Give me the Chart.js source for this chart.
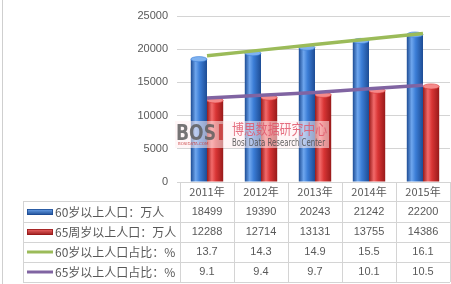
<!DOCTYPE html>
<html>
<head>
<meta charset="utf-8">
<script src="https://cdn.jsdelivr.net/npm/chart.js@4/dist/chart.umd.min.js"></script>
<style>
  html, body { margin: 0; padding: 0; background: #fff; }
  #wrap { position: relative; width: 451px; height: 284px; }
  canvas { display: block; }
</style>
</head>
<body>
<div id="wrap"><canvas id="c" width="451" height="284"></canvas></div>
<script>
// Categories and series
const years = ['2011年', '2012年', '2013年', '2014年', '2015年'];
const pop60 = [18499, 19390, 20243, 21242, 22200];      // 60岁以上人口：万人
const pop65 = [12288, 12714, 13131, 13755, 14386];      // 65周岁以上人口：万人
const share60 = [13.7, 14.3, 14.9, 15.5, 16.1];         // 60岁以上人口占比：%
const share65 = [9.1, 9.4, 9.7, 10.1, 10.5];            // 65岁以上人口占比：%
const seriesNames = ['60岁以上人口：万人', '65周岁以上人口：万人', '60岁以上人口占比：%', '65岁以上人口占比：%'];
const yTicks = [0, 5000, 10000, 15000, 20000, 25000];

const TEXT = '#595959';
const RULE = '#d4d4d4';
const CJK = '"Noto Sans CJK SC", "Microsoft YaHei", sans-serif';
const NUM = '"Liberation Sans", Arial, sans-serif';

const palettes = {
  blue: { edge: '#1d4c94', mid: '#3b7dd6', hi: '#6ea6ee', cap: '#7fb2f0' },
  red:  { edge: '#981a1a', mid: '#d93535', hi: '#f26a6a', cap: '#f58a8a' }
};

// Cylinder-like shading for the columns, built from each bar element's own geometry
const cylinderPlugin = {
  id: 'cylinder',
  beforeDatasetDraw(chart, args) {
    const ds = chart.data.datasets[args.index];
    if (ds.type !== 'bar') return;
    const p = palettes[ds.tone];
    const ctx = chart.ctx;
    args.meta.data.forEach(el => {
      const l = el.x - el.width / 2, r = el.x + el.width / 2;
      const g = ctx.createLinearGradient(l, 0, r, 0);
      g.addColorStop(0, p.edge);
      g.addColorStop(0.3, p.hi);
      g.addColorStop(0.55, p.mid);
      g.addColorStop(1, p.edge);
      el.options = Object.assign({}, el.options, { backgroundColor: g });
    });
  },
  afterDatasetDraw(chart, args) {
    const ds = chart.data.datasets[args.index];
    if (ds.type !== 'bar') return;
    const p = palettes[ds.tone];
    const ctx = chart.ctx;
    ctx.save();
    args.meta.data.forEach(el => {
      ctx.beginPath();
      ctx.ellipse(el.x, el.y, el.width / 2, 2.6, 0, 0, Math.PI * 2);
      ctx.fillStyle = p.cap;
      ctx.fill();
      ctx.lineWidth = 0.6;
      ctx.strokeStyle = p.mid;
      ctx.stroke();
    });
    ctx.restore();
  }
};

// Data table under the plot, columns taken from the category scale
const tablePlugin = {
  id: 'dataTable',
  afterDraw(chart) {
    const ctx = chart.ctx;
    const xs = chart.scales.x;
    const area = chart.chartArea;
    const colW = (area.right - area.left) / years.length;
    const left = 23, right = area.right;
    const top = area.bottom;
    const headerBottom = 201;
    const rowLines = [201, 221.5, 241.5, 262, 282];
    ctx.save();
    ctx.strokeStyle = RULE;
    ctx.lineWidth = 1;
    // horizontal rules
    rowLines.forEach(y => {
      ctx.beginPath();
      ctx.moveTo(left, Math.round(y) + 0.5);
      ctx.lineTo(right, Math.round(y) + 0.5);
      ctx.stroke();
    });
    // vertical rules
    for (let i = 0; i <= years.length; i++) {
      const x = Math.round(area.left + i * colW) + 0.5;
      ctx.beginPath();
      ctx.moveTo(x, top);
      ctx.lineTo(x, 282);
      ctx.stroke();
    }
    ctx.beginPath();
    ctx.moveTo(left + 0.5, headerBottom);
    ctx.lineTo(left + 0.5, 282);
    ctx.stroke();

    ctx.fillStyle = TEXT;
    ctx.textBaseline = 'middle';
    ctx.textAlign = 'center';
    ctx.font = '11px ' + CJK;
    years.forEach((y, i) => ctx.fillText(y, xs.getPixelForValue(i), 192));

    const rows = [pop60, pop65, share60, share65];
    const rowY = [212, 232, 252, 272];
    ctx.font = '11px ' + NUM;
    rows.forEach((vals, r) => {
      vals.forEach((v, i) => ctx.fillText(String(v), xs.getPixelForValue(i), rowY[r]));
    });

    // legend keys and series names
    ctx.textAlign = 'left';
    ctx.font = '12px ' + CJK;
    rowY.forEach((y, r) => {
      const kx = 27, kw = 26;
      if (r < 2) {
        const p = r === 0 ? palettes.blue : palettes.red;
        const g = ctx.createLinearGradient(0, y - 3, 0, y + 3);
        g.addColorStop(0, p.hi);
        g.addColorStop(1, p.edge);
        ctx.fillStyle = g;
        ctx.fillRect(kx, y - 3, kw, 6);
        ctx.strokeStyle = p.edge;
        ctx.lineWidth = 0.8;
        ctx.strokeRect(kx + 0.5, y - 2.5, kw - 1, 5);
      } else {
        ctx.strokeStyle = r === 2 ? '#9bbb59' : '#8064a2';
        ctx.lineWidth = 3;
        ctx.beginPath();
        ctx.moveTo(kx, y);
        ctx.lineTo(kx + kw, y);
        ctx.stroke();
      }
      ctx.fillStyle = TEXT;
      ctx.fillText(seriesNames[r], 55, y + 0.5);
    });
    ctx.restore();
  }
};

// Publisher mark and frame edge
const markPlugin = {
  id: 'publisherMark',
  afterDraw(chart) {
    const ctx = chart.ctx;
    ctx.save();
    ctx.strokeStyle = '#cfcfcf';
    ctx.lineWidth = 1;
    ctx.beginPath();
    ctx.moveTo(2.5, 0);
    ctx.lineTo(2.5, 284);
    ctx.stroke();

    ctx.fillStyle = 'rgba(255,238,240,0.55)';
    ctx.fillRect(175, 121, 154, 27);
    ctx.globalAlpha = 0.85;
    ctx.fillStyle = '#5e5e5e';
    ctx.font = 'bold 21px "DejaVu Sans", sans-serif';
    ctx.textBaseline = 'alphabetic';
    ctx.textAlign = 'left';
    ctx.fillText('BOS', 176, 140, 40);
    ctx.fillStyle = '#c83a3a';
    ctx.fillText('I', 217, 140, 9);
    ctx.font = '4px "DejaVu Sans", sans-serif';
    ctx.fillStyle = '#c83a3a';
    ctx.fillText('BOSIDATA.COM', 178, 145, 50);
    ctx.fillStyle = '#e0566a';
    ctx.font = '14px ' + CJK;
    ctx.fillText('博思数据研究中心', 232, 134, 95);
    ctx.fillStyle = '#4a4a4a';
    ctx.font = '11px "DejaVu Sans Condensed", "Liberation Sans Narrow", sans-serif';
    ctx.fillText('Bosi Data Research Center', 232, 146, 93);
    ctx.restore();
  }
};

new Chart(document.getElementById('c'), {
  data: {
    labels: years,
    datasets: [
      { type: 'line', label: seriesNames[2], data: share60, yAxisID: 'y2', order: 0,
        borderColor: '#9bbb59', borderWidth: 3.5, pointRadius: 0, tension: 0, fill: false },
      { type: 'line', label: seriesNames[3], data: share65, yAxisID: 'y2', order: 0,
        borderColor: '#8064a2', borderWidth: 3.5, pointRadius: 0, tension: 0, fill: false },
      { type: 'bar', label: seriesNames[0], data: pop60, yAxisID: 'y', order: 1, tone: 'blue',
        backgroundColor: '#3b7dd6', categoryPercentage: 0.6, barPercentage: 1 },
      { type: 'bar', label: seriesNames[1], data: pop65, yAxisID: 'y', order: 1, tone: 'red',
        backgroundColor: '#d93535', categoryPercentage: 0.6, barPercentage: 1 }
    ]
  },
  options: {
    responsive: false,
    animation: false,
    devicePixelRatio: 1,
    layout: { padding: { top: 16, bottom: 102, right: 1, left: 0 } },
    plugins: { legend: { display: false }, tooltip: { enabled: false } },
    scales: {
      x: { display: false, offset: true },
      y: {
        min: 0, max: 25000,
        afterBuildTicks(scale) { scale.ticks = yTicks.map(v => ({ value: v })); },
        afterFit(scale) { scale.width = 180; },
        border: { display: false },
        grid: { color: RULE, lineWidth: 1, drawTicks: true, tickLength: 3 },
        ticks: { color: TEXT, padding: 9, font: { family: NUM, size: 11 }, callback: v => String(v) }
      },
      y2: { display: false, min: 0, max: 18 }
    }
  },
  plugins: [cylinderPlugin, tablePlugin, markPlugin]
});
</script>
</body>
</html>
